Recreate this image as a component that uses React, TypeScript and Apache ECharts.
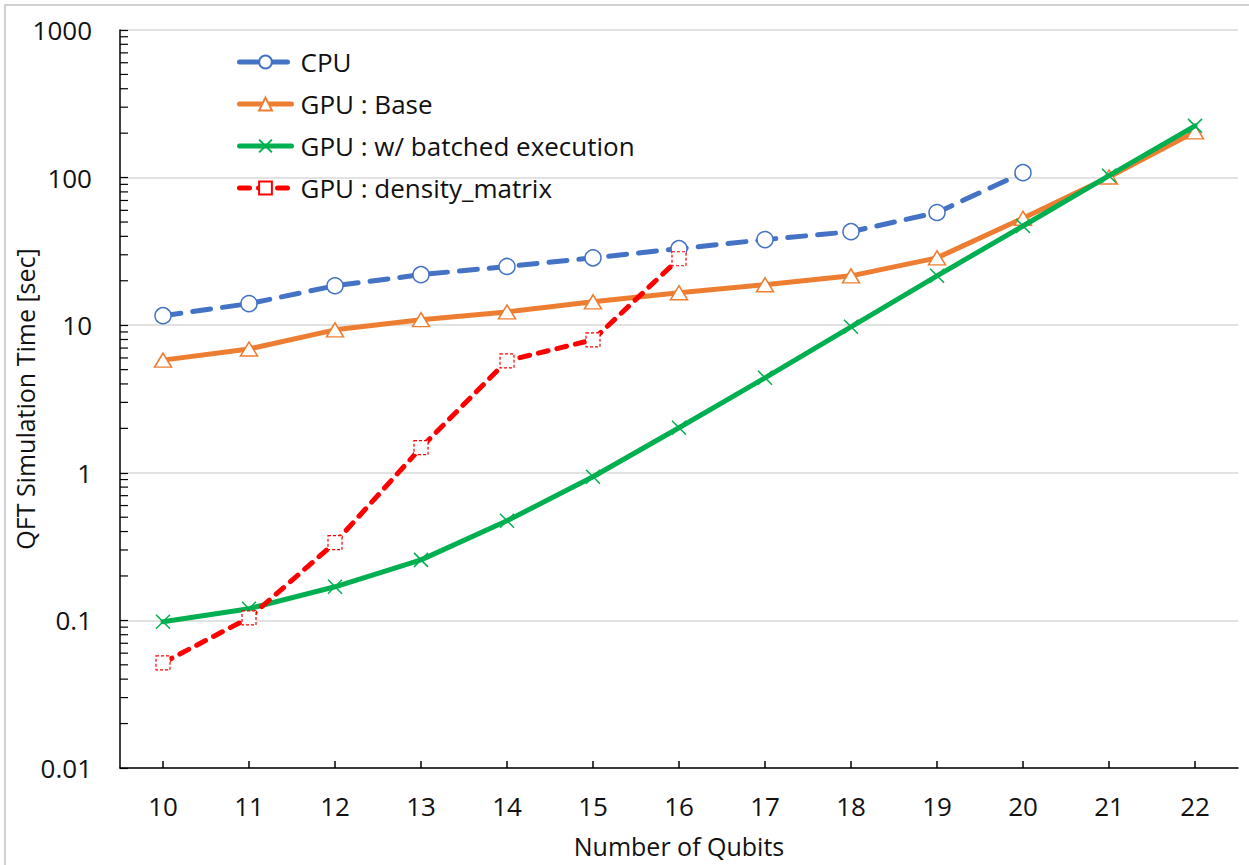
import React, { useEffect, useRef } from "react";
import * as echarts from "echarts";

const qubits = ["10", "11", "12", "13", "14", "15", "16", "17", "18", "19", "20", "21", "22"];
const cpu = [11.6, 14, 18.5, 22, 25, 28.6, 33, 38, 43, 58, 108];
const gpuBase = [5.8, 6.9, 9.3, 10.9, 12.3, 14.4, 16.6, 18.8, 21.6, 28.6, 53, 101, 204];
const gpuBatched = [0.098, 0.12, 0.169, 0.257, 0.473, 0.94, 2.02, 4.4, 9.75, 21.6, 47, 103, 224];
const gpuDensity = [0.0516, 0.104, 0.336, 1.48, 5.74, 7.96, 28.2];
const minorTickValues = [
  0.02, 0.03, 0.04, 0.05, 0.06, 0.07, 0.08, 0.09,
  0.2, 0.3, 0.4, 0.5, 0.6, 0.7, 0.8, 0.9,
  2, 3, 4, 5, 6, 7, 8, 9,
  20, 30, 40, 50, 60, 70, 80, 90,
  200, 300, 400, 500, 600, 700, 800, 900,
];

const FONT = "'Open Sans', 'Noto Sans', sans-serif";
const CROSS = "path://M0,0L10,10M10,0L0,10";

export default function App() {
  const ref = useRef<HTMLDivElement>(null);
  useEffect(() => {
    document.body.style.margin = "0";
    const chart = echarts.init(ref.current!, null, { renderer: "svg" });
    chart.setOption({
      animation: false,
      backgroundColor: "#fff",
      textStyle: { fontFamily: FONT },
      graphic: [
        {
          type: "rect",
          shape: { x: 5, y: 5, width: 1260, height: 900 },
          style: { fill: "none", stroke: "#d0d0d0", lineWidth: 2 },
          silent: true,
          z: -10,
        },
      ],
      grid: { left: 120, right: 11, top: 30, bottom: 97, containLabel: false, outerBoundsMode: "none" },
      legend: {
        orient: "vertical",
        left: 232,
        top: 43,
        itemWidth: 52,
        itemHeight: 16,
        itemGap: 14,
        lineStyle: { width: 5 },
        data: ["CPU", "GPU : Base", "GPU : w/ batched execution", "GPU : density_matrix"],
        textStyle: { fontFamily: FONT, fontSize: 26, color: "#111", lineHeight: 28, padding: [0, 0, 0, 4] },
        selectedMode: false,
      },
      xAxis: {
        type: "category",
        data: qubits,
        boundaryGap: true,
        name: "Number of Qubits",
        nameLocation: "middle",
        nameGap: 65,
        nameMoveOverlap: false,
        nameTextStyle: { fontFamily: FONT, fontSize: 25, color: "#111" },
        axisLine: { lineStyle: { color: "#000", width: 1.5 } },
        axisTick: { show: true, inside: true, alignWithLabel: true, length: 7, lineStyle: { color: "#000", width: 1.5 } },
        axisLabel: { fontFamily: FONT, fontSize: 26, color: "#111", margin: 25 },
        splitLine: { show: false },
      },
      yAxis: {
        type: "log",
        logBase: 10,
        min: 0.01,
        max: 1000,
        name: "QFT Simulation Time [sec]",
        nameLocation: "middle",
        nameGap: 83,
        nameMoveOverlap: false,
        nameRotate: 90,
        nameTextStyle: { fontFamily: FONT, fontSize: 25, color: "#111" },
        axisLine: { show: true, lineStyle: { color: "#000", width: 1.5 } },
        axisTick: { show: true, inside: true, length: 8, lineStyle: { color: "#000", width: 1.2 } },
        axisLabel: {
          fontFamily: FONT,
          fontSize: 26,
          color: "#111",
          margin: 28,
          formatter: (v: number) => (v >= 1 ? String(Math.round(v)) : String(parseFloat(v.toPrecision(1)))),
        },
        splitLine: { show: true, lineStyle: { color: "#d9d9d9", width: 1.5 } },
      },
      series: [
        {
          type: "custom",
          name: "minorTicks",
          silent: true,
          data: minorTickValues.map((v) => [0, v]),
          renderItem: (params: any, api: any) => {
            const y = api.coord([0, api.value(1)])[1];
            const x0 = params.coordSys.x;
            return {
              type: "line",
              shape: { x1: x0, y1: y, x2: x0 + 8, y2: y },
              style: { stroke: "#000", lineWidth: 1.2 },
            };
          },
          z: 1,
        },
        {
          name: "CPU",
          type: "line",
          data: cpu,
          symbol: "circle",
          symbolSize: 16,
          lineStyle: { color: "#4472C4", width: 5, type: [18, 12], cap: "round" },
          itemStyle: { color: "#fff", borderColor: "#4472C4", borderWidth: 1.5 },
          z: 2,
        },
        {
          name: "GPU : Base",
          type: "line",
          data: gpuBase,
          symbol: "triangle",
          symbolSize: [17, 14],
          lineStyle: { color: "#ED7D31", width: 5, cap: "round" },
          itemStyle: { color: "#fff", borderColor: "#ED7D31", borderWidth: 1.5 },
          z: 3,
        },
        {
          name: "GPU : w/ batched execution",
          type: "line",
          data: gpuBatched,
          symbol: CROSS,
          symbolSize: 14,
          lineStyle: { color: "#00B050", width: 5, cap: "round" },
          itemStyle: { color: "#00B050", borderColor: "#00B050", borderWidth: 1.5 },
          z: 4,
        },
        {
          name: "GPU : density_matrix",
          type: "line",
          data: gpuDensity,
          symbol: "rect",
          symbolSize: 14,
          lineStyle: { color: "#FF0000", width: 5, type: [10, 9], cap: "round" },
          itemStyle: { color: "#fff", borderColor: "#FF0000", borderWidth: 1.2, borderType: [3, 2] },
          z: 5,
        },
      ],
    });
    return () => chart.dispose();
  }, []);
  return <div ref={ref} style={{ width: 1249, height: 865, position: "absolute", left: 0, top: 0 }} />;
}
